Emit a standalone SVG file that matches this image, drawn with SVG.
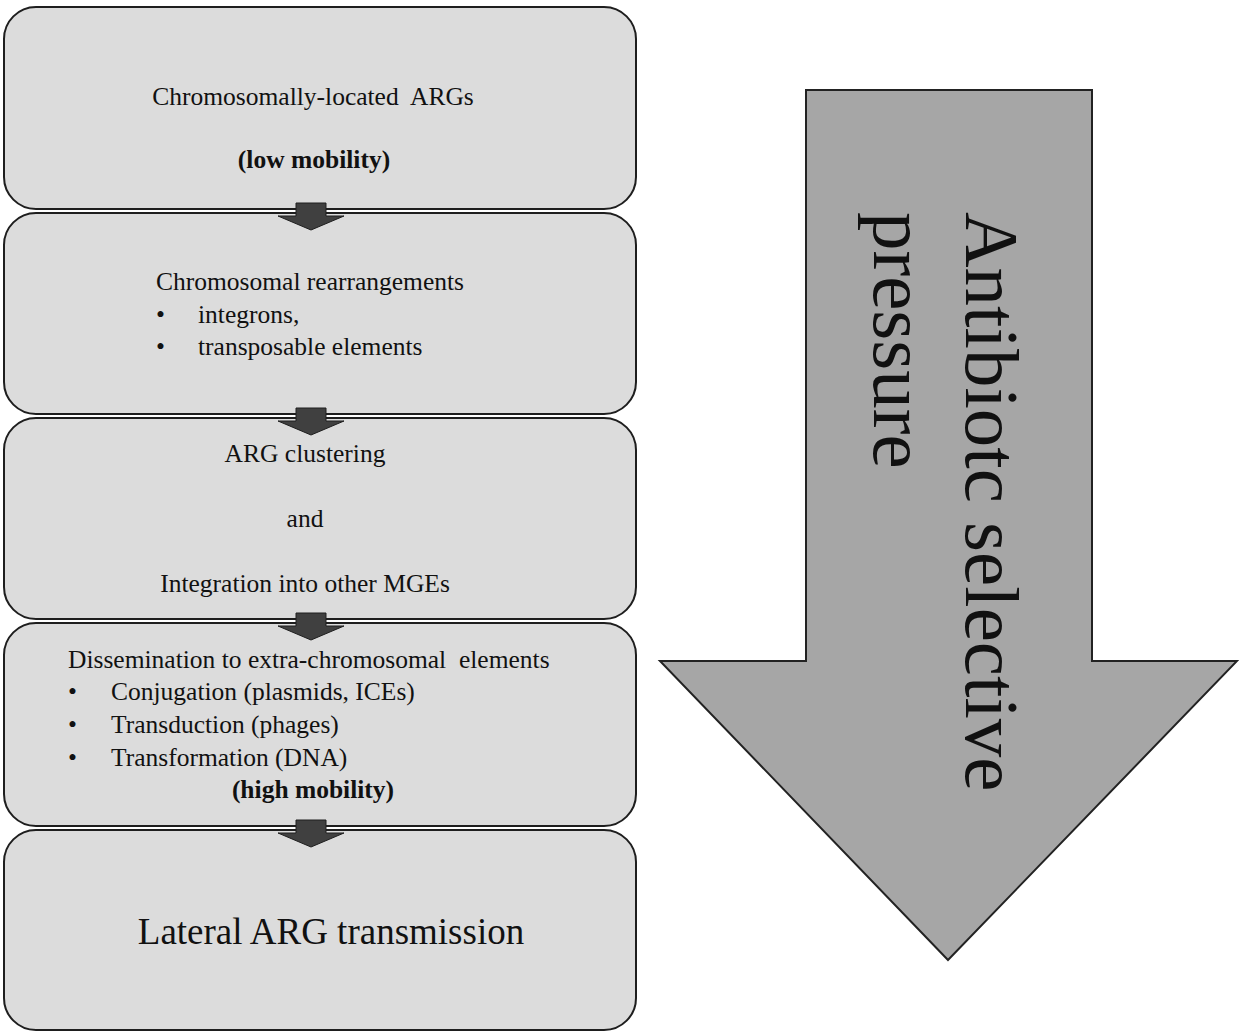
<svg xmlns="http://www.w3.org/2000/svg" width="1239" height="1032" viewBox="0 0 1239 1032">
<defs>
<style>
.box{fill:#dcdcdc;stroke:#1e1e1e;stroke-width:2}
.t{font-family:"Liberation Serif","Times New Roman",serif;fill:#111;font-size:25.5px;white-space:pre}
.c{text-anchor:middle}
.b{font-weight:bold}
.big{font-family:"Liberation Serif","Times New Roman",serif;fill:#111;font-size:77px}
.conn{fill:#404040;stroke:#1e1e1e;stroke-width:1}
</style>
<path id="sarrow" d="M296,-8 H326 V5 H344 L311,19 L278,5 H296 Z"/>
</defs>
<rect width="1239" height="1032" fill="#ffffff"/>
<g id="pressure-arrow">
<path d="M806,90 H1092 V661 H1237 L948,960 L660,661 H806 Z" fill="#a6a6a6" stroke="#222" stroke-width="2"/>
<text class="big" transform="translate(966,212) rotate(90)">Antibiotc selective</text>
<text class="big" transform="translate(874,212) rotate(90)">pressure</text>
</g>
<g id="node1">
<rect class="box" x="4" y="7" width="632" height="202" rx="32"/>
<text class="t c" x="313" y="105" xml:space="preserve">Chromosomally-located  ARGs</text>
<text class="t c b" x="314" y="168">(low mobility)</text>
</g>
<g id="node2">
<rect class="box" x="4" y="213" width="632" height="201" rx="32"/>
<text class="t" x="156" y="290">Chromosomal rearrangements</text>
<text class="t" x="156" y="323">•</text>
<text class="t" x="198" y="323">integrons,</text>
<text class="t" x="156" y="355">•</text>
<text class="t" x="198" y="355">transposable elements</text>
</g>
<g id="node3">
<rect class="box" x="4" y="418" width="632" height="201" rx="32"/>
<text class="t c" x="305" y="462">ARG clustering</text>
<text class="t c" x="305" y="527">and</text>
<text class="t c" x="305" y="592">Integration into other MGEs</text>
</g>
<g id="node4">
<rect class="box" x="4" y="623" width="632" height="203" rx="32"/>
<text class="t" x="68" y="668" xml:space="preserve">Dissemination to extra-chromosomal  elements</text>
<text class="t" x="68" y="700">•</text>
<text class="t" x="111" y="700">Conjugation (plasmids, ICEs)</text>
<text class="t" x="68" y="733">•</text>
<text class="t" x="111" y="733">Transduction (phages)</text>
<text class="t" x="68" y="766">•</text>
<text class="t" x="111" y="766">Transformation (DNA)</text>
<text class="t c b" x="313" y="798">(high mobility)</text>
</g>
<g id="node5">
<rect class="box" x="4" y="830" width="632" height="200" rx="32"/>
<text class="t c" x="331" y="944" style="font-size:37px">Lateral ARG transmission</text>
</g>
<g id="connectors">
<use href="#sarrow" class="conn" transform="translate(0,211)"/>
<use href="#sarrow" class="conn" transform="translate(0,416)"/>
<use href="#sarrow" class="conn" transform="translate(0,621)"/>
<use href="#sarrow" class="conn" transform="translate(0,828)"/>
</g>
</svg>
